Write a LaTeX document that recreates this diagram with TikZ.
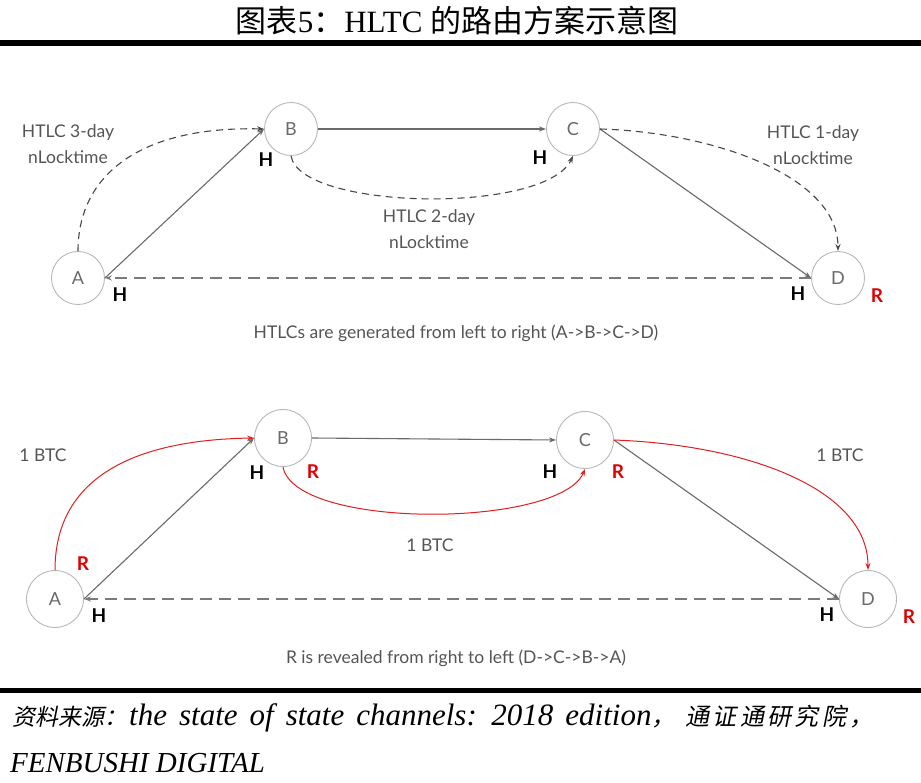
\documentclass[tikz,border=0pt]{standalone}
\usepackage{fontspec}
\setmainfont{Liberation Serif}
\newfontfamily\cjk{Noto Sans CJK SC}
\newfontfamily\cjkit[FakeSlant=0.2]{Noto Sans CJK SC}
\newfontfamily\cjkitw[FakeSlant=0.2,LetterSpace=14]{Noto Sans CJK SC}
\newfontfamily\lab{Lato}
\usetikzlibrary{arrows.meta}
\definecolor{edgegray}{HTML}{6A6A6A}
\definecolor{dashgray}{HTML}{7A7A7A}
\definecolor{circgray}{HTML}{B8B8B8}
\definecolor{txtgray}{HTML}{555555}
\definecolor{rred}{HTML}{E02020}
\definecolor{rlab}{HTML}{E00000}
\begin{document}
\begin{tikzpicture}[x=1pt,y=-1pt,
  nd/.style={circle,draw=circgray,fill=white,line width=0.9pt,minimum size=53pt,inner sep=0pt,text=edgegray,font=\lab\fontsize{18}{18}\selectfont},
  ndb/.style={nd,minimum size=57pt},
  tip/.style={-{Stealth[length=7pt,width=5pt]}},
  gline/.style={draw=edgegray,line width=1.1pt,tip},
  dline/.style={draw=dashgray,line width=1.1pt,dash pattern=on 12pt off 7pt,tip},
  dcurve/.style={draw=black!72,line width=1.1pt,dash pattern=on 7pt off 5pt,tip},
  rcurve/.style={draw=rred,line width=1pt,tip},
  lbl/.style={text=txtgray,font=\lab\fontsize{17.5}{17.5}\selectfont,align=center},
  hh/.style={font=\lab\bfseries\fontsize{19}{19}\selectfont,text=black},
  rr/.style={font=\lab\bfseries\fontsize{19}{19}\selectfont,text=rlab}]
\useasboundingbox (0,0) rectangle (921,783);
\fill[white] (0,0) rectangle (921,783);
% title
\node (title) at (457,21) {\fontsize{31}{31}\selectfont{\cjk 图表}5{\cjk ：}HLTC {\cjk 的路由方案示意图}};
\fill[black] (0,40) rectangle (921,46);
\fill[black] (0,688) rectangle (921,693);
\node[anchor=west,inner sep=0pt] (src1) at (12,718) {{\fontsize{23}{23}\selectfont\cjkit 资料来源：}\hspace{2pt}\fontsize{31}{31}\selectfont\itshape\spaceskip=12pt\relax the state of state channels: 2018 edition{\fontsize{24}{24}\selectfont\cjkit ，}\hspace{10pt}{\fontsize{24}{24}\selectfont\cjkitw 通证通研究院，}};
\node[anchor=west,inner sep=0pt] (src2) at (10,763) {\fontsize{29}{29}\selectfont\itshape FENBUSHI DIGITAL};

% ---------- top diagram
\node[nd] (A1) at (78,278) {A};
\node[nd] (B1) at (291,129) {B};
\node[nd] (C1) at (573,129) {C};
\node[nd] (D1) at (838,278) {D};
\path[gline] (A1.east) -- (B1.west);
\path[gline] (B1.east) -- (C1.west);
\path[gline] (C1.east) -- (D1.west);
\path[dline] (D1.west) -- (A1.east);
\path[dcurve] (A1.north) .. controls (78,175) and (140,126) .. (B1.west);
\path[dcurve] (B1.south) .. controls (300,210) and (545,215) .. (C1.south);
\path[dcurve] (C1.east) .. controls (710,132) and (838,175) .. (D1.north);
\node[lbl] (t3) at (68,144) {HTLC 3-day\\[8pt]nLocktime};
\node[lbl] (t2) at (429,229) {HTLC 2-day\\[8pt]nLocktime};
\node[lbl] (t1) at (813,145) {HTLC 1-day\\[8pt]nLocktime};
\node[hh] (hB1) at (266,160) {H};
\node[hh] (hC1) at (540,158) {H};
\node[hh] (hA1) at (120,295) {H};
\node[hh] (hD1) at (798,294) {H};
\node[rr] (rD1) at (877,296) {R};
\node[lbl] (cap1) at (456,333) {HTLCs are generated from left to right (A->B->C->D)};

% ---------- bottom diagram
\node[ndb] (A2) at (55,599) {A};
\node[ndb] (B2) at (283,438) {B};
\node[ndb] (C2) at (585,440) {C};
\node[ndb] (D2) at (868,599) {D};
\path[gline] (A2.east) -- (B2.west);
\path[gline] (B2.east) -- (C2.west);
\path[gline] (C2.east) -- (D2.west);
\path[dline] (D2.west) -- (A2.east);
\path[rcurve] (A2.north) .. controls (55,480) and (130,440) .. (B2.west);
\path[rcurve] (B2.south) .. controls (295,530) and (560,528) .. (C2.south);
\path[rcurve] (C2.east) .. controls (750,445) and (868,490) .. (D2.north);
\node[lbl] (b1) at (43,455) {1 BTC};
\node[lbl] (b2) at (430,545) {1 BTC};
\node[lbl] (b3) at (840,455) {1 BTC};
\node[hh] (hB2) at (257,473) {H};
\node[rr] (rB2) at (313,472) {R};
\node[hh] (hC2) at (550,472) {H};
\node[rr] (rC2) at (618,472) {R};
\node[rr] (rA2) at (83,564) {R};
\node[hh] (hA2) at (99,616) {H};
\node[hh] (hD2) at (827,615) {H};
\node[rr] (rD2) at (909,617) {R};
\node[lbl] (cap2) at (456,658) {R is revealed from right to left (D->C->B->A)};
\end{tikzpicture}
\end{document}
